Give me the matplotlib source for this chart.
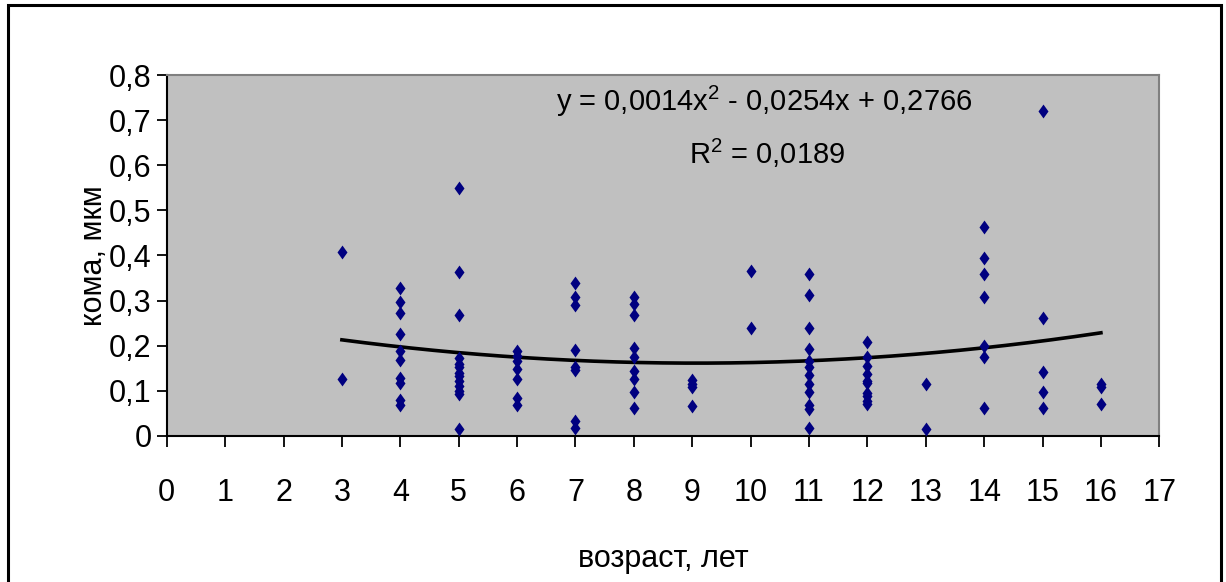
import numpy as np
import matplotlib.pyplot as plt
from matplotlib.path import Path
from matplotlib.patches import Rectangle

# Кома (мкм) по возрастам
ages = [3, 4, 5, 6, 7, 8, 9, 10, 11, 12, 13, 14, 15, 16]
coma = [
    [0.407, 0.126],
    [0.329, 0.297, 0.273, 0.225, 0.188, 0.168, 0.128, 0.117, 0.080, 0.069],
    [0.550, 0.364, 0.269, 0.172, 0.160, 0.152, 0.140, 0.133, 0.122, 0.111, 0.100, 0.093, 0.015],
    [0.188, 0.178, 0.166, 0.148, 0.126, 0.085, 0.069],
    [0.338, 0.309, 0.290, 0.191, 0.152, 0.146, 0.032, 0.017],
    [0.307, 0.292, 0.267, 0.194, 0.176, 0.144, 0.126, 0.097, 0.061],
    [0.124, 0.116, 0.108, 0.066],
    [0.365, 0.239],
    [0.360, 0.312, 0.239, 0.192, 0.166, 0.152, 0.135, 0.115, 0.097, 0.069, 0.060, 0.018],
    [0.209, 0.174, 0.155, 0.137, 0.121, 0.117, 0.095, 0.089, 0.078, 0.071],
    [0.115, 0.015],
    [0.463, 0.395, 0.360, 0.308, 0.200, 0.174, 0.062],
    [0.721, 0.261, 0.141, 0.097, 0.062],
    [0.115, 0.108, 0.071],
]

# коэффициенты полиномиальной линии тренда (как на графике)
trend_coef = [0.0014, -0.0254, 0.2766]
trend_text = "y = 0,0014x$^2$ - 0,0254x + 0,2766"
r2_text = "R$^2$ = 0,0189"

x_ticks = list(range(0, 18))
y_ticks = [0, 0.1, 0.2, 0.3, 0.4, 0.5, 0.6, 0.7, 0.8]
y_labels = ["0", "0,1", "0,2", "0,3", "0,4", "0,5", "0,6", "0,7", "0,8"]

plt.rcParams['font.family'] = ['Liberation Sans', 'DejaVu Sans']
plt.rcParams['mathtext.fontset'] = 'custom'
plt.rcParams['mathtext.rm'] = 'Liberation Sans'

fig = plt.figure(figsize=(12.26, 5.82), dpi=100)
ax = fig.add_axes([0.136, 0.251, 0.8096, 0.620])
ax.set_facecolor('#c0c0c0')

diamond = Path([(0, 1), (0.72, 0), (0, -1), (-0.72, 0), (0, 1)],
               [Path.MOVETO, Path.LINETO, Path.LINETO, Path.LINETO, Path.CLOSEPOLY])

xs = []
ys = []
for a, vals in zip(ages, coma):
    xs += [a] * len(vals)
    ys += vals
ax.plot(xs, ys, linestyle='none', marker=diamond, markersize=10,
        color='#000080', markeredgewidth=0, zorder=3)

xt = np.linspace(ages[0], ages[-1], 200)
ax.plot(xt, np.polyval(trend_coef, xt), color='black', linewidth=2.6, zorder=2)

ax.set_xlim(0, 17)
ax.set_ylim(0, 0.8)
ax.set_xticks(x_ticks)
ax.set_xticklabels([str(t) for t in x_ticks])
ax.set_yticks(y_ticks)
ax.set_yticklabels(y_labels)
ax.tick_params(axis='x', direction='out', length=8, width=1.3, labelsize=22, pad=22)
ax.tick_params(axis='y', direction='out', length=7, width=1.3, labelsize=22, pad=4)

for s in ['left', 'bottom']:
    ax.spines[s].set_color('black')
    ax.spines[s].set_linewidth(1.5)
for s in ['top', 'right']:
    ax.spines[s].set_color('#808080')
    ax.spines[s].set_linewidth(1.5)

ax.set_xlabel('возраст, лет', fontsize=22, labelpad=26)
ax.set_ylabel('кома, мкм', fontsize=22, labelpad=0)

ax.text(0.602, 0.928, trend_text, transform=ax.transAxes, ha='center', va='center', fontsize=21)
ax.text(0.605, 0.783, r2_text, transform=ax.transAxes, ha='center', va='center', fontsize=21)

# рамка вокруг диаграммы
fig.patches.append(Rectangle((8 / 1226, -0.05), 1213 / 1226, 1.05 - 5 / 582,
                             transform=fig.transFigure, fill=False,
                             edgecolor='black', linewidth=2.2))

fig.savefig('out.png', dpi=100)
